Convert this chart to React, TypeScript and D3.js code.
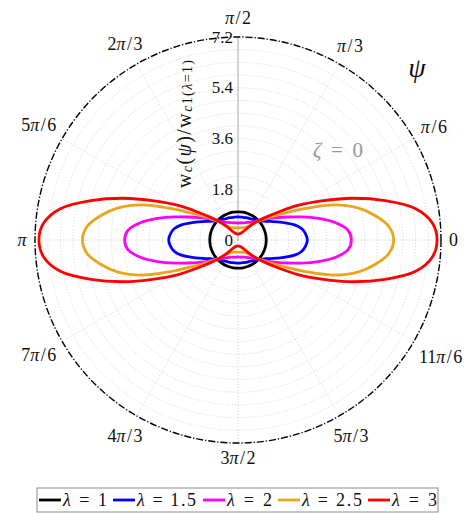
import React from 'react';
import * as d3 from 'd3';

const W = 473;
const H = 513;
const cx = 238;
const cy = 240;
const R = 203;

// radial axis
const rMax = 7.2;
const radialTicks = [0, 1.8, 3.6, 5.4, 7.2];
const radialTickLabels = ['0', '1.8', '3.6', '5.4', '7.2'];
const minorStep = 0.45;

// angular axis
const angleTickDeg = [0, 30, 60, 90, 120, 150, 180, 210, 240, 270, 300, 330];
const angleTickLabels = ['0', 'π/6', 'π/3', 'π/2', '2π/3', '5π/6', 'π', '7π/6', '4π/3', '3π/2', '5π/3', '11π/6'];

// sampled first quadrant (curves are symmetric about both axes)
const psiDeg = [0, 5, 10, 15, 20, 25, 30, 35, 40, 45, 50, 60, 70, 80, 90];
const wLambda1 = [1, 1, 1, 1, 1, 1, 1, 1, 1, 1, 1, 1, 1, 1, 1];
const wLambda15 = [2.46, 2.41, 2.3, 2.08, 1.78, 1.52, 1.32, 1.16, 1.05, 0.98, 0.93, 0.87, 0.84, 0.82, 0.82];
const wLambda2 = [4.02, 3.92, 3.52, 2.95, 2.4, 1.93, 1.58, 1.32, 1.1, 0.95, 0.85, 0.72, 0.65, 0.62, 0.6];
const wLambda25 = [5.52, 5.38, 4.95, 4.4, 3.64, 2.65, 1.9, 1.42, 1.1, 0.86, 0.68, 0.52, 0.46, 0.44, 0.43];
const wLambda3 = [7.06, 6.92, 6.4, 5.4, 4.33, 3.28, 2.45, 1.7, 1.22, 0.9, 0.62, 0.32, 0.25, 0.22, 0.21];

const lambdaLabels = ['1', '1.5', '2', '2.5', '3'];
const seriesValues = [wLambda1, wLambda15, wLambda2, wLambda25, wLambda3];
const seriesColors = ['#000000', '#0000ff', '#ff00ff', '#e8a61c', '#ff0000'];

const rScale = d3.scaleLinear().domain([0, rMax]).range([0, R]);

type Pt = [number, number]; // [psi in degrees, value]

function fullTurn(values: number[]): Pt[] {
  const n = psiDeg.length;
  const pts: Pt[] = [];
  for (let i = 0; i < n; i++) pts.push([psiDeg[i], values[i]]);
  for (let i = n - 2; i >= 0; i--) pts.push([180 - psiDeg[i], values[i]]);
  for (let i = 1; i < n; i++) pts.push([180 + psiDeg[i], values[i]]);
  for (let i = n - 2; i >= 1; i--) pts.push([360 - psiDeg[i], values[i]]);
  return pts;
}

const radialLine = d3
  .lineRadial<Pt>()
  .angle((p) => Math.PI / 2 - (p[0] * Math.PI) / 180)
  .radius((p) => rScale(p[1]))
  .curve(d3.curveCatmullRomClosed.alpha(0.5));

const FONT = '"Liberation Serif", "DejaVu Serif", serif';

function MathLabel({ s }: { s: string }) {
  // π drawn italic, slash padded like math spacing
  const parts = s.split(/(π|\/)/).filter((p) => p.length > 0);
  return (
    <>
      {parts.map((p, i) =>
        p === 'π' ? (
          <tspan key={i} fontStyle="italic">π</tspan>
        ) : p === '/' ? (
          <tspan key={i} dx={1.5}>/</tspan>
        ) : (
          <tspan key={i} dx={i > 0 && parts[i - 1] === '/' ? 1.5 : 0}>{p}</tspan>
        )
      )}
    </>
  );
}

function labelWidth(s: string) {
  let w = 0;
  for (const ch of s) w += ch === 'π' ? 10 : ch === '/' ? 8 : 9;
  return w;
}

export default function App() {
  const minorRings = d3.range(1, Math.round(rMax / minorStep) + 1).map((k) => k * minorStep);
  const legendX = [39, 113, 203, 278, 368];
  const legendTextW = [44, 59, 45, 60, 45];
  const legendY = 500;

  return (
    <svg
      width={W}
      height={H}
      viewBox={`0 0 ${W} ${H}`}
      style={{ position: 'absolute', left: 0, top: 0, background: '#fff' }}
      fontFamily={FONT}
    >
      <g transform={`translate(${cx},${cy})`}>
        {/* grid rings */}
        {minorRings.map((v, i) => (
          <circle key={i} r={rScale(v)} fill="none" stroke="#c8c8c8" strokeWidth={0.8} strokeDasharray="1 2" />
        ))}
        {/* spokes */}
        {angleTickDeg
          .filter((d) => d !== 90)
          .map((d) => {
            const a = (d * Math.PI) / 180;
            return (
              <line
                key={d}
                x1={0}
                y1={0}
                x2={R * Math.cos(a)}
                y2={-R * Math.sin(a)}
                stroke="#c8c8c8"
                strokeWidth={0.8}
                strokeDasharray="1 2"
              />
            );
          })}
        {/* radial axis line */}
        <line x1={0} y1={0} x2={0} y2={-R} stroke="#a8a8a8" strokeWidth={1} />
        {/* outer boundary */}
        <circle r={R} fill="none" stroke="#000" strokeWidth={1.4} strokeDasharray="7 2 1.2 2" />

        {/* curves */}
        {seriesValues.map((vals, i) => (
          <path key={i} d={radialLine(fullTurn(vals)) || ''} fill="none" stroke={seriesColors[i]} strokeWidth={2.8} />
        ))}

        {/* radial tick labels */}
        {radialTicks.map((v, i) => (
          <text key={i} x={-5} y={-rScale(v)} textAnchor="end" dominantBaseline="central" fontSize={17} fill="#111">
            {radialTickLabels[i]}
          </text>
        ))}

        {/* angular tick labels */}
        {angleTickDeg.map((d, i) => {
          const a = (d * Math.PI) / 180;
          const c = Math.cos(a);
          const s = Math.sin(a);
          const w = labelWidth(angleTickLabels[i]);
          const h = d === 90 ? 22 : 14;
          const dist = R + 8 + Math.abs(c) * (w / 2) + Math.abs(s) * (h / 2);
          return (
            <text
              key={d}
              x={dist * c}
              y={-dist * s}
              textAnchor="middle"
              dominantBaseline="central"
              fontSize={18}
              fill="#111"
            >
              <MathLabel s={angleTickLabels[i]} />
            </text>
          );
        })}
      </g>

      {/* radial axis title */}
      <text
        transform={`translate(${cx - 54},${cy - 116}) rotate(-90)`}
        textAnchor="middle"
        dominantBaseline="central"
        fontSize={20}
        fill="#111"
        textLength={128}
        lengthAdjust="spacing"
      >
        w<tspan fontSize={14} dy={3} fontStyle="italic">c</tspan>
        <tspan dy={-3}>(</tspan>
        <tspan fontStyle="italic">ψ</tspan>)/w
        <tspan fontSize={14} dy={3}>
          <tspan fontStyle="italic">c</tspan>1(<tspan fontStyle="italic">λ</tspan>=1)
        </tspan>
      </text>

      {/* annotations */}
      <text x={417} y={67} textAnchor="middle" dominantBaseline="central" fontSize={28} fontStyle="italic" fill="#111">
        ψ
      </text>
      <text
        x={313}
        y={150}
        dominantBaseline="central"
        fontSize={21}
        fill="#999"
        textLength={50}
        lengthAdjust="spacing"
      >
        <tspan fontStyle="italic">ζ</tspan> = 0
      </text>

      {/* legend */}
      <rect x={37} y={488} width={401} height={24} fill="#fff" stroke="#8c8c8c" strokeWidth={1} />
      {lambdaLabels.map((lab, i) => (
        <g key={i}>
          <line x1={legendX[i]} x2={legendX[i] + 22} y1={legendY} y2={legendY} stroke={seriesColors[i]} strokeWidth={2.8} />
          <text
            x={legendX[i] + 24}
            y={legendY}
            dominantBaseline="central"
            fontSize={18}
            fill="#111"
            textLength={legendTextW[i]}
            lengthAdjust="spacing"
          >
            <tspan fontStyle="italic">λ</tspan> = {lab}
          </text>
        </g>
      ))}
    </svg>
  );
}
